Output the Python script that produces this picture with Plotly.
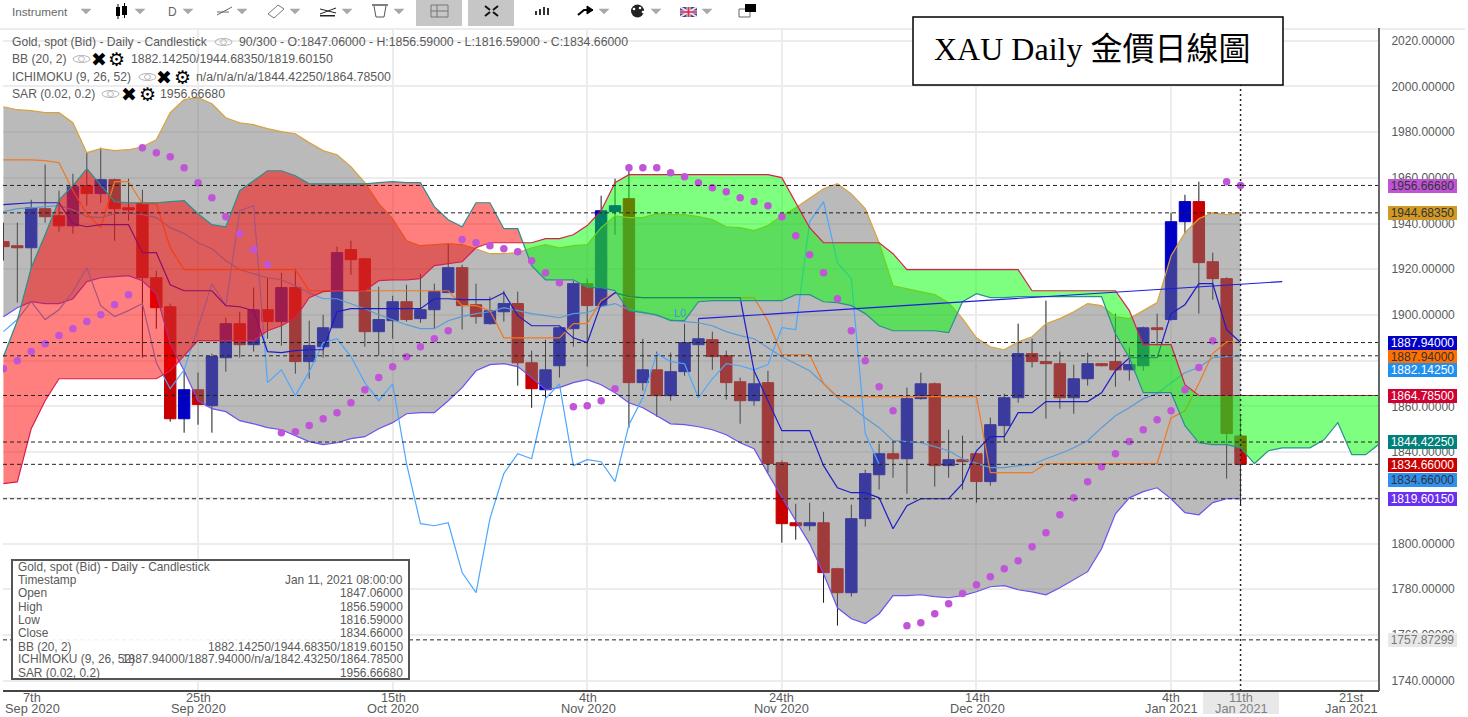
import plotly.graph_objects as go

# ---------- data ----------
opens = [1932.1,1930.3,1929.4,1946.5,1943.4,1939,1956.6,1953.1,1959.2,1946.9,1948.7,1916.3,1903.6,1854.6,1867.3,1860.3,1881.3,1896.2,1887,1902.3,1897.1,1912,1879.6,1886.1,1894.4,1928.6,1924.6,1892.7,1897.5,1905.8,1898.4,1902.3,1909.8,1920.7,1904.5,1896.2,1901.4,1905,1879.1,1867.3,1877.8,1894,1913.7,1904.1,1945.2,1950.9,1870.4,1876,1864.7,1875.2,1887,1889.2,1882.2,1870.8,1862.5,1870.4,1835.4,1809.1,1807.8,1809.1,1789,1778.5,1810.9,1830.1,1839.3,1837.1,1863.4,1869.9,1834.1,1836.7,1839.3,1827.1,1851.6,1863.8,1883.1,1879.6,1878.7,1863.8,1872.1,1878.7,1879.6,1876,1877.8,1894.4,1898,1940.8,1949.6,1923.3,1915.9,1847.06]
highs = [1940.4,1940.4,1950.4,1965.8,1954.4,1961.8,1971,1973.2,1959.6,1959.6,1954.8,1919.4,1905,1876.5,1874.8,1883.1,1898.8,1901.4,1912,1916.3,1918.5,1920.3,1897.5,1900.1,1929.9,1932.5,1925,1912.4,1908.4,1913.3,1918,1913.7,1931.2,1922,1913.7,1908,1910.6,1910.2,1884.4,1889.2,1894.8,1915,1915.9,1952.2,1959.6,1964,1889.6,1884,1883.5,1896.2,1898.4,1892.7,1884.4,1872.6,1875.6,1875.6,1836.3,1817.4,1817.9,1813.9,1789.4,1817,1832.3,1843.7,1845,1868.2,1874.75,1870.4,1849.8,1847.2,1839.8,1855.1,1865.6,1896.2,1889.6,1906.3,1884,1878.3,1883.5,1879,1900.6,1885.7,1894.9,1900.6,1944.75,1952.6,1958.3,1927.3,1916.5,1856.59]
lows = [1923.8,1905.4,1920.3,1940.4,1936.4,1935.6,1947.8,1949.1,1932.5,1941.3,1881.3,1894,1853.3,1848.5,1852,1848.5,1875.2,1881.3,1884,1889.6,1886.6,1874.3,1872.1,1881.3,1894.4,1917.6,1886.1,1882.2,1889.6,1897.1,1896.6,1894,1909.8,1893.6,1896.2,1895.8,1897.1,1869.1,1859.4,1863.8,1872.6,1886.1,1877.4,1903.5,1935.1,1850.7,1866.9,1855.5,1862.5,1873.4,1863.8,1876,1863,1852.4,1860.3,1831,1800.4,1801.7,1805.6,1774.1,1764.1,1776.8,1807.4,1823.6,1828.8,1821.8,1863,1824.9,1828.8,1823.6,1817.9,1825.3,1844.1,1861.6,1877,1854.6,1859,1856.8,1869.1,1877.5,1868.6,1871.25,1875.6,1886.6,1897.5,1935.6,1900.6,1906.7,1828.4,1816.59]
closes = [1929.9,1929.4,1946.9,1943,1939,1956.1,1953.1,1959.2,1946.5,1946,1916.3,1903.2,1854.6,1867.3,1860.8,1881.8,1896.2,1887,1902.3,1897.1,1912,1879.6,1886.6,1894.4,1927.3,1924.2,1892.7,1898,1905.8,1898,1902.3,1910.2,1920.7,1904.1,1899.3,1901.9,1905,1879.1,1867.75,1876,1894.4,1913.7,1904.1,1945.6,1947.8,1870.4,1876,1864.7,1875.2,1887.9,1889.6,1881.8,1870.4,1862.5,1869.9,1835,1808.7,1807.8,1809.1,1787.3,1778.5,1810.9,1830.6,1839.3,1837.1,1863.4,1869.9,1834.1,1836.7,1835.8,1827.1,1852,1863.8,1883.1,1879.6,1878.7,1863.8,1872.1,1878.7,1877.8,1876,1878.3,1894.4,1893.6,1940.8,1949.6,1922.9,1915.9,1848.1,1834.66]

bb_upper = [1991.1,1989.8,1989.4,1988.5,1988.5,1984.1,1971,1972.75,1971.9,1972.3,1973.6,1976.7,1988.5,1994.2,1995.1,1992.4,1986.3,1984.1,1983.25,1981.5,1980.2,1979.3,1975.4,1971.9,1970.1,1964.9,1957.9,1948.7,1942.1,1932.5,1930.3,1930.75,1931.2,1930.75,1929,1926.8,1926.8,1927.25,1929.4,1930.75,1929.4,1930.3,1930.75,1938.2,1943.4,1942.6,1942.6,1944.3,1943.9,1943.9,1943,1941.7,1938.6,1938.2,1936.9,1939.1,1943.4,1946.9,1950.9,1955.25,1957.4,1953,1946.5,1931.6,1912.8,1911.5,1910.2,1908.9,1905.4,1898.4,1890,1886.1,1884.8,1888.3,1890.5,1896.2,1898.4,1901.4,1905,1904.1,1899.25,1898.4,1901.9,1905.4,1925.9,1936,1942.1,1944.75,1943.9,1944.68]
bb_lower = [1899.25,1903.2,1905.8,1905,1905,1907.1,1914.6,1916.3,1916.75,1917.2,1915,1909.3,1887.4,1875.6,1862.5,1859,1857.7,1853.75,1852.4,1850.7,1849.8,1847.2,1844.6,1843.25,1844.1,1845.9,1846.75,1850.25,1852.9,1856.8,1857.25,1857.25,1862.5,1868.2,1875.6,1878.25,1878.7,1877.4,1872.6,1867.3,1868.2,1870.4,1871.7,1869.5,1866,1861.6,1859.4,1855.9,1852.4,1852,1851.1,1849.8,1847.6,1844.1,1841.5,1830.6,1820,1810,1800,1786.8,1771.9,1767.1,1765,1769.3,1777.2,1777.2,1777.6,1776.75,1776.3,1777.2,1778.9,1781.1,1781.6,1779.8,1778.9,1777.6,1780.7,1784.2,1787.7,1797.75,1813,1820,1822.7,1824.4,1819.6,1813.5,1812.6,1817.9,1819.6,1819.6]
bb_mid = [1945.2,1946.5,1946.9,1947.4,1947.8,1946,1943,1942.6,1944.3,1944.75,1943.9,1942.6,1938.2,1935.6,1931.6,1929,1923.75,1919.8,1918,1916.3,1915.4,1912.8,1909.75,1907.1,1907.1,1905,1902.75,1900.1,1898,1895.75,1894,1894,1897.5,1899.25,1900.6,1901.4,1903.2,1901.9,1900.6,1899.7,1898.8,1900.6,1901,1903.6,1905,1902.3,1901.4,1899.7,1898,1897.1,1896.6,1895.3,1892.7,1891,1889.6,1885.7,1881.75,1878.7,1875.6,1870,1863.8,1859.9,1855,1850.7,1845,1844.6,1844.1,1842.4,1840.6,1837.1,1835,1833.2,1833.2,1834.1,1834.5,1837.1,1839.3,1841.9,1845,1850.7,1855.9,1859.4,1863.4,1865.6,1870.4,1874.75,1877,1881.3,1881.75,1882.14]

tenkan = [1948.25,1948.7,1949.1,1949.1,1949.1,1939.9,1938.6,1939.5,1939.5,1939.5,1927.25,1927.25,1913.25,1910.6,1910.6,1910.6,1904.1,1903.6,1901.9,1884,1883.5,1884.4,1884.8,1884.8,1901.4,1902.75,1902.75,1902.75,1902.75,1902.75,1902.75,1907.1,1907.1,1906.7,1906.7,1906.7,1909.75,1899.7,1895.3,1895.3,1895.3,1890,1887.9,1905,1909.75,1908,1907.6,1907.6,1907.6,1907.6,1907.6,1907.6,1907.6,1907.6,1875.6,1862.5,1849.4,1849.4,1849.4,1834.1,1824.4,1822.25,1822.25,1820,1806.5,1816.6,1819.6,1819.6,1819.6,1826.2,1840.6,1846.75,1846.75,1857.25,1857.25,1862.1,1862.1,1862.1,1862.1,1866,1875.6,1881.3,1881.3,1881.3,1900.6,1904.5,1913.7,1913.7,1893.6,1887.94]
kijun = [1967.9,1967.9,1967.9,1967.5,1966.6,1954.4,1944.3,1938.2,1958.3,1958.3,1948.7,1948.7,1929.4,1919.8,1919.8,1919.8,1919.8,1919.8,1919.8,1919.8,1919.8,1919.8,1910.6,1910.6,1910.6,1910.6,1910.6,1910.6,1910.6,1910.6,1910.6,1910.6,1910.6,1904.1,1904.1,1901.9,1890,1890,1890,1890,1890,1896.2,1896.2,1906.25,1909.75,1907.6,1907.6,1907.6,1907.6,1907.6,1907.6,1907.6,1907.6,1907.6,1907.6,1897.5,1882.6,1882.6,1882.6,1870,1864.25,1864.25,1864.25,1864.25,1864.25,1864.25,1864.25,1864.25,1864.25,1864.25,1864.25,1831,1831,1831,1831,1835,1835,1835,1835,1835,1835,1835,1835,1835,1855,1858.1,1870,1883.1,1888.3,1887.94]
chikou = [1892.7,1898,1905.8,1898,1902.3,1910.2,1920.7,1904.1,1899.3,1901.9,1905,1879.1,1867.75,1876,1894.4,1913.7,1904.1,1945.6,1947.8,1870.4,1876,1864.7,1875.2,1887.9,1889.6,1881.8,1870.4,1862.5,1869.9,1835,1808.7,1807.8,1809.1,1787.3,1778.5,1810.9,1830.6,1839.3,1837.1,1863.4,1869.9,1834.1,1836.7,1835.8,1827.1,1852,1863.8,1883.1,1879.6,1878.7,1863.8,1872.1,1878.7,1877.8,1876,1878.3,1894.4,1893.6,1940.8,1949.6,1922.9,1915.9,1848.1,1834.66]
span_a = [1881.75,1897.5,1920.7,1935.1,1950.4,1956.6,1964,1956.6,1949.6,1949.1,1949.1,1949.1,1949.6,1950,1944.3,1939.5,1938.6,1954.4,1958.75,1963.1,1963.1,1960.9,1957.4,1957.4,1957.4,1957.4,1957.4,1957.9,1958.3,1957.9,1957.9,1947.4,1941.7,1938.6,1949.1,1949.1,1937.75,1937.75,1921.6,1915.4,1915.4,1915.4,1912,1912,1910.6,1901.9,1901,1900.1,1897.5,1897.5,1905.8,1906.25,1906.25,1906.25,1906.25,1906.25,1906.25,1908.9,1908.9,1905.8,1905.4,1904.1,1900.6,1895.3,1893.1,1893.1,1893.1,1893.1,1892.25,1905.8,1909.3,1907.6,1907.6,1908,1908,1908,1908,1908,1908,1908,1891.8,1881.3,1866,1866,1866,1851.6,1844.1,1843.25,1843.25,1841.9,1835,1840.6,1841.9,1841.9,1841.9,1845.4,1852.9,1838.9,1838.9,1843.7]
span_b = [1826.2,1827,1850.25,1862.5,1872.1,1872.1,1872.1,1872.1,1872.1,1872.1,1872.1,1872.1,1875.6,1882.2,1888.75,1888.75,1888.75,1888.75,1888.75,1893.1,1895.3,1898.8,1907.6,1910.2,1910.6,1910.6,1910.6,1915,1915.4,1915.4,1915.9,1921.6,1922.4,1923.3,1929.4,1931.6,1931.6,1931.6,1931.6,1933.4,1933.4,1935.1,1939.1,1945.6,1957.9,1961.4,1961.4,1961.4,1961.4,1961.4,1961.4,1961.4,1961.4,1961.4,1961.4,1961.4,1960.1,1949.1,1938.2,1931.6,1931.6,1931.6,1931.6,1931.6,1926.8,1919.8,1919.8,1919.8,1919.8,1919.8,1919.8,1919.8,1919.8,1919.8,1910.6,1910.6,1910.6,1910.6,1910.6,1910.6,1910.6,1901.9,1887,1887,1887,1869.5,1864.78,1864.78,1864.78,1864.78,1864.78,1864.78,1864.78,1864.78,1864.78,1864.78,1864.78,1864.78,1864.78,1864.78]
sar = [1876.5,1880,1884,1887.4,1891,1894,1897.1,1900.1,1904.5,1908.9,1973.2,1971,1969.25,1964.4,1957.9,1951.3,1943,1935.6,1928.6,1922,1848.5,1848.9,1851.6,1854.6,1857.25,1861.6,1867.3,1872.6,1877.4,1881.75,1886.1,1889.6,1893.1,1933,1931.6,1930.3,1929,1927.7,1923.75,1918.5,1914.1,1859.9,1860.3,1862.5,1867.75,1964.4,1964.4,1964.4,1962.25,1960.5,1957.9,1955.7,1953.9,1951.3,1949.6,1947.8,1943,1934.7,1926.4,1918.5,1907.1,1893.1,1880,1868.6,1858.1,1764.1,1765.4,1769.3,1773.7,1778.1,1782,1785.5,1789,1792.5,1798.6,1804.75,1812.6,1820,1827,1833.6,1839.3,1844.6,1849.8,1854.2,1858.1,1867.3,1877,1888.75,1958.3,1956.67]

trend_x = [50, 92]
trend_y = [1898.4, 1914.6]
level_lines = [1956.6668, 1944.6835, 1887.94, 1882.1425, 1864.785, 1844.4225, 1834.66, 1819.6015, 1757.87299]
grid_bars = [0, 14, 28, 42, 56, 70, 84]
y_ticks = list(range(1740, 2021, 20))

# ---------- page geometry ----------
W, H = 1468, 717
L, R, T, B = 3, 1379, 28, 691
def px(x): return (x - L) / (R - L)
def py(y): return 1 - (y - T) / (B - T)

fig = go.Figure()
bars = list(range(len(opens)))
UP, DOWN = "#0000c4", "#c80000"

# wicks: a candlestick whose body collapses inside the real body
mids = [(o + c) / 2 for o, c in zip(opens, closes)]
fig.add_trace(go.Candlestick(x=bars, open=mids, close=mids, high=highs, low=lows,
                             increasing=dict(line=dict(color="#1a1a1a", width=1), fillcolor="#1a1a1a"),
                             decreasing=dict(line=dict(color="#1a1a1a", width=1), fillcolor="#1a1a1a"),
                             hoverinfo="skip"))
# bodies
tops = [max(o, c) for o, c in zip(opens, closes)]
bots = [min(o, c) for o, c in zip(opens, closes)]
fig.add_trace(go.Candlestick(x=bars, open=opens, close=closes, high=tops, low=bots,
                             increasing=dict(line=dict(color=UP, width=1), fillcolor=UP),
                             decreasing=dict(line=dict(color=DOWN, width=1), fillcolor=DOWN),
                             hoverinfo="skip"))

# Bollinger envelope
fig.add_trace(go.Scatter(x=bars, y=bb_upper, mode="lines", line=dict(color="#d9a23a", width=1.2)))
fig.add_trace(go.Scatter(x=bars, y=bb_lower, mode="lines", line=dict(color="#6f50f0", width=1.2),
                         fill="tonexty", fillcolor="rgba(118,118,118,0.5)"))
fig.add_trace(go.Scatter(x=bars, y=bb_mid, mode="lines", line=dict(color="#5b9bd5", width=1.2)))
# Ichimoku lines below the cloud
fig.add_trace(go.Scatter(x=list(range(len(chikou))), y=chikou, mode="lines", line=dict(color="#4da6ff", width=1.2)))
fig.add_trace(go.Scatter(x=bars, y=kijun, mode="lines", line=dict(color="#f07820", width=1.2)))
fig.add_trace(go.Scatter(x=bars, y=tenkan, mode="lines", line=dict(color="#1c1cc8", width=1.2)))

# Ichimoku cloud, split where the spans cross
idx = list(range(len(span_a)))
k = next(i for i in idx[:-1] if (span_a[i] - span_b[i]) * (span_a[i + 1] - span_b[i + 1]) < 0)
d0, d1 = span_a[k] - span_b[k], span_a[k + 1] - span_b[k + 1]
cx = k + d0 / (d0 - d1)
cy = span_a[k] + (span_a[k + 1] - span_a[k]) * (cx - k)
red_x = idx[:k + 1] + [cx] + idx[:k + 1][::-1]
red_y = span_a[:k + 1] + [cy] + span_b[:k + 1][::-1]
green_x = [cx] + idx[k + 1:] + idx[k + 1:][::-1]
green_y = [cy] + span_b[k + 1:] + span_a[k + 1:][::-1]
fig.add_trace(go.Scatter(x=red_x, y=red_y, mode="none", fill="toself", fillcolor="rgba(255,0,0,0.5)"))
fig.add_trace(go.Scatter(x=green_x, y=green_y, mode="none", fill="toself", fillcolor="rgba(0,255,0,0.5)"))
fig.add_trace(go.Scatter(x=idx, y=span_a, mode="lines", line=dict(color="#2a8f8f", width=1.2)))
fig.add_trace(go.Scatter(x=idx, y=span_b, mode="lines", line=dict(color="#d8204c", width=1.2)))

fig.add_trace(go.Scatter(x=trend_x, y=trend_y, mode="lines", line=dict(color="#1c1ce0", width=1.2)))
fig.add_trace(go.Scatter(x=bars, y=sar, mode="markers", marker=dict(color="#c055d8", size=7.5, line=dict(width=0))))

# ---------- shapes ----------
shapes = []
for v in level_lines:
    shapes.append(dict(type="line", xref="paper", yref="y", x0=0, x1=1, y0=v, y1=v,
                       line=dict(color="#222", width=1, dash="4px,3px")))
shapes.append(dict(type="line", xref="x", yref="paper", x0=89, x1=89, y0=0, y1=1,
                   line=dict(color="#222", width=1.5, dash="2px,3px")))
def rect(x0, y0, x1, y1, fill="white", line=None, lw=1):
    return dict(type="rect", xref="paper", yref="paper", x0=px(x0), x1=px(x1), y0=py(y0), y1=py(y1),
                fillcolor=fill, line=dict(color=line or "rgba(0,0,0,0)", width=lw if line else 0))
def path(points, fill="rgba(0,0,0,0)", line="#000", lw=1, close=False):
    d = "M " + " L ".join(f"{px(x):.5f},{py(y):.5f}" for x, y in points) + (" Z" if close else "")
    return dict(type="path", xref="paper", yref="paper", path=d, fillcolor=fill,
                line=dict(color=line, width=lw))
def tri(x, y=11):
    return path([(x, y - 2), (x + 10, y - 2), (x + 5, y + 3)], fill="#a8a8a8", line="#a8a8a8", lw=0.5, close=True)
def dot(x, y, r, fill):
    return dict(type="circle", xref="paper", yref="paper", x0=px(x - r), x1=px(x + r), y0=py(y - r), y1=py(y + r),
                fillcolor=fill, line=dict(width=0))
def eye(x, y):
    return [dict(type="circle", xref="paper", yref="paper", x0=px(x), x1=px(x + 17), y0=py(y - 3.5), y1=py(y + 3.5),
                 fillcolor="rgba(0,0,0,0)", line=dict(color="#b0b0b0", width=1)),
            dict(type="circle", xref="paper", yref="paper", x0=px(x + 5.5), x1=px(x + 11.5), y0=py(y - 2.5), y1=py(y + 2.5),
                 fillcolor="rgba(0,0,0,0)", line=dict(color="#b8b8b8", width=1))]

# header band
shapes += [rect(-3, 0, W - 3, 28), rect(-3, 28, W - 3, 30, fill="#ececec")]
# axis frame
shapes += [dict(type="line", xref="paper", yref="paper", x0=0, x1=1, y0=0, y1=0, line=dict(color="#444", width=2)),
           dict(type="line", xref="paper", yref="paper", x0=1, x1=1, y0=0, y1=1, line=dict(color="#666", width=2))]
# toolbar
for x in (81, 135, 183, 237, 290, 342, 394, 599, 651, 702):
    shapes.append(tri(x))
shapes += [rect(116, 7, 120, 16, fill="#000"), rect(122, 6, 127, 15, fill="#000"),
           path([(118, 4), (118, 19)]), path([(124.5, 3), (124.5, 18)]),
           path([(217, 15), (232, 7)], line="#666"), path([(217, 12), (229, 12)], line="#666"),
           path([(268, 14), (278, 5), (284, 9), (274, 18)], line="#777", close=True),
           path([(320, 9), (336, 13)], line="#222"), path([(320, 14), (336, 8)], line="#222"),
           rect(320, 15, 335, 16.5, fill="#222"),
           path([(372, 5), (388, 5)], line="#555", lw=1.5),
           path([(374, 6), (376, 17), (384, 17), (386, 6)], line="#555"),
           rect(416, 0, 462, 26, fill="#c6c6c6"), rect(468, 0, 514, 26, fill="#c6c6c6"),
           rect(431, 5, 448, 17, fill="rgba(0,0,0,0)", line="#777"),
           path([(431, 11), (448, 11)], line="#777"), path([(437, 5), (437, 17)], line="#777"),
           path([(485, 6), (490, 10)], line="#111", lw=2), path([(498, 6), (493, 10)], line="#111", lw=2),
           path([(485, 16), (490, 12)], line="#111", lw=2), path([(498, 16), (493, 12)], line="#111", lw=2),
           rect(535, 11, 537, 15, fill="#333"), rect(539, 9, 541, 15, fill="#333"),
           rect(543, 7, 545, 15, fill="#333"), rect(547, 8, 549, 15, fill="#333"),
           path([(578, 15), (584, 10), (593, 10)], line="#000", lw=2),
           path([(587, 6), (593, 10), (587, 14)], fill="#000", line="#000", close=True),
           dot(637.5, 11, 6.5, "#222"), dot(634, 9, 1.3, "#fff"), dot(640, 8, 1.3, "#fff"), dot(643, 12, 1.3, "#fff"),
           rect(680, 7, 697, 17, fill="#3a4a9c"),
           path([(680, 7), (697, 17)], line="#f4e4e8", lw=2), path([(680, 17), (697, 7)], line="#f4e4e8", lw=2),
           rect(680, 10.5, 697, 13.5, fill="#f4e4e8"), rect(686.5, 7, 690.5, 17, fill="#f4e4e8"),
           rect(680, 11.2, 697, 12.8, fill="#d83050"), rect(687.5, 7, 689.5, 17, fill="#d83050"),
           rect(739, 9, 750, 17, fill="white", line="#666"), rect(745, 4, 756, 12, fill="#000")]
# legend eyes
shapes += eye(215, 42) + eye(73, 59) + eye(139, 77) + eye(102, 94)
# readout box
shapes.append(rect(12, 560, 409, 679, fill="rgba(255,255,255,0.92)", line="#555", lw=2))
# date highlight
shapes.append(rect(1203, 692, 1279, 714, fill="#e8e8e8"))
# title box
shapes.append(rect(913, 17, 1283, 85, fill="white", line="#000", lw=1.5))

# ---------- text ----------
GREY = "#5a5a5a"
SANS = "Liberation Sans, Arial, sans-serif"
ann = []
def txt(x, y, s, size=12.1, color=GREY, anchor="left", family=SANS):
    ann.append(dict(xref="paper", yref="paper", x=px(x), y=py(y), text=s, showarrow=False,
                    xanchor=anchor, yanchor="middle", align=anchor, borderpad=0, borderwidth=0,
                    font=dict(size=size, color=color, family=family)))

txt(12, 11, "Instrument", 11.7, "#6a6a6a")
txt(172, 12, "D", 12, "#666", "center")

txt(12, 42, "Gold, spot (Bid) - Daily - Candlestick")
txt(239, 42, "90/300 - O:1847.06000 - H:1856.59000 - L:1816.59000 - C:1834.66000", 12.3)
txt(12, 59, "BB (20, 2)")
txt(131, 59, "1882.14250/1944.68350/1819.60150", 12.3)
txt(12, 77, "ICHIMOKU (9, 26, 52)")
txt(196, 77, "n/a/n/a/n/a/1844.42250/1864.78500", 12.3)
txt(12, 94, "SAR (0.02, 0.2)")
txt(160, 94, "1956.66680", 12.3)
for x, y in [(99, 59), (164, 77), (129, 94)]:
    txt(x, y, "✖", 19, "#000", "center", "DejaVu Sans")
    txt(x + 18, y, "⚙", 19, "#000", "center", "DejaVu Sans")

readout_labels = ["Timestamp", "Open", "High", "Low", "Close", "BB (20, 2)", "ICHIMOKU (9, 26, 52)", "SAR (0.02, 0.2)"]
readout_values = ["Jan 11, 2021 08:00:00", "1847.06000", "1856.59000", "1816.59000", "1834.66000",
                  "1882.14250/1944.68350/1819.60150", "1887.94000/1887.94000/n/a/1842.43250/1864.78500", "1956.66680"]
readout_rows = [580, 593, 607, 620, 633, 647, 659, 673]
txt(18, 567, "Gold, spot (Bid) - Daily - Candlestick", 11.9)
for rowy, a, b in zip(readout_rows, readout_labels, readout_values):
    txt(18, rowy, a, 11.9)
    txt(403, rowy, b, 11.9, anchor="right")

date_days = ["7th", "25th", "15th", "4th", "24th", "14th", "4th", "11th", "21st"]
date_months = ["Sep 2020", "Sep 2020", "Oct 2020", "Nov 2020", "Nov 2020", "Dec 2020", "Jan 2021", "Jan 2021", "Jan 2021"]
date_cols = [32, 198, 393, 588, 782, 977, 1171, 1241, 1351]
for x, d, m in zip(date_cols, date_days, date_months):
    ink = "#808080" if d == "11th" else GREY
    txt(x, 697.5, d, 12.8, ink, "center")
    txt(x, 708.5, m, 12.8, ink, "center")

txt(680, 313, "L0", 11, "#4a90e0", "center")

value_tags = ["1956.66680", "1944.68350", "1887.94000", "1887.94000", "1882.14250", "1864.78500",
              "1844.42250", "1834.66000", "1834.66000", "1819.60150", "1757.87299"]
tag_rows = [185.5, 213, 342.5, 356.5, 370, 395.5, 441.5, 464.5, 479.5, 498.5, 640]
tag_fills = ["#bf55d6", "#d09a25", "#0000c8", "#ff7000", "#2090f0", "#d00030", "#00807a", "#c80000", "#3090f0", "#6a30f0", "#e8e8e8"]
tag_inks = ["#333", "#333", "#fff", "#333", "#fff", "#fff", "#fff", "#fff", "#333", "#fff", "#777"]
for s, rowy, fill, ink in zip(value_tags, tag_rows, tag_fills, tag_inks):
    ann.append(dict(xref="paper", yref="paper", x=px(1388), y=py(rowy), text=s, showarrow=False,
                    xanchor="left", yanchor="middle", width=69, height=14, align="center", borderpad=0,
                    borderwidth=0, bgcolor=fill, font=dict(size=12, color=ink, family=SANS)))

txt(934, 49, "XAU Daily 金價日線圖", 32, "#000", "left", "Liberation Serif, Noto Sans CJK TC, serif")

fig.update_layout(
    width=W, height=H, autosize=False, showlegend=False, paper_bgcolor="white", plot_bgcolor="white",
    margin=dict(l=L, r=W - R, t=T, b=H - B), boxgap=0.18, boxgroupgap=0, shapes=shapes, annotations=ann,
    xaxis=dict(range=[-0.03, 98.96], tickmode="array", tickvals=grid_bars, showticklabels=False,
               showgrid=True, gridcolor="#ececec", gridwidth=2, zeroline=False, rangeslider=dict(visible=False)),
    yaxis=dict(range=[1735.5, 2025.55], side="right", tickmode="array", tickvals=y_ticks,
               ticktext=[f"{v:.5f}" for v in y_ticks], showgrid=True, gridcolor="#ececec", gridwidth=2,
               zeroline=False, ticks="outside", ticklen=9, tickcolor="rgba(0,0,0,0)",
               tickfont=dict(size=12, color=GREY, family=SANS)),
)
fig.write_html("out.html", config={"displayModeBar": False},
               post_script="document.body.style.margin='0';document.body.style.overflow='hidden';")
